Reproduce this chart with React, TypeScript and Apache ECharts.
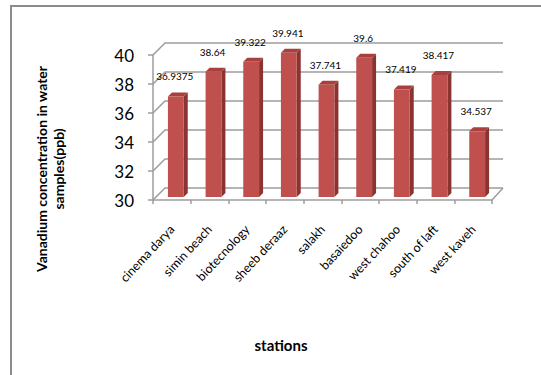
import React, { useEffect, useRef } from "react";
import * as echarts from "echarts";

// Stations along the coast and their vanadium concentrations (ppb)
const stations = [
  "cinema darya",
  "simin beach",
  "biotecnology",
  "sheeb deraaz",
  "salakh",
  "basaiedoo",
  "west chahoo",
  "south of laft",
  "west kaveh",
];
const vanadium = [36.9375, 38.64, 39.322, 39.941, 37.741, 39.6, 37.419, 38.417, 34.537];
const valueLabels = ["36.9375", "38.64", "39.322", "39.941", "37.741", "39.6", "37.419", "38.417", "34.537"];
const yTicks = [30, 32, 34, 36, 38, 40];

const Y_MIN = 30;
const Y_MAX = 40;
const DEPTH = 12; // back-wall offset (px) for the 3D look
const GRID_COLOR = "#9d9d9d";

export default function App() {
  const ref = useRef<HTMLDivElement>(null);

  useEffect(() => {
    if (!ref.current) return;
    const chart = echarts.init(ref.current, null, { renderer: "svg" });

    const option: any = {
      animation: false,
      backgroundColor: "#ffffff",
      grid: { left: 153, right: 49, top: 55, bottom: 175, containLabel: false },
      xAxis: {
        type: "category",
        data: stations,
        boundaryGap: true,
        axisLine: { show: true, lineStyle: { color: GRID_COLOR, width: 1.5 } },
        axisTick: { show: true, length: 4, lineStyle: { color: GRID_COLOR, width: 1.5 } },
        axisLabel: {
          rotate: 47,
          margin: 27,
          fontFamily: "Lato",
          fontSize: 12.5,
          color: "#000",
        },
        splitLine: { show: false },
      },
      yAxis: {
        type: "value",
        min: Y_MIN,
        max: Y_MAX,
        interval: 2,
        axisLine: { show: true, lineStyle: { color: GRID_COLOR, width: 1.5 } },
        axisTick: { show: true, length: 5, lineStyle: { color: GRID_COLOR, width: 1.5 } },
        axisLabel: {
          margin: 19,
          fontFamily: "Lato",
          fontSize: 17,
          color: "#000",
        },
        splitLine: { show: false },
      },
      series: [
        {
          // back wall and floor of the 3D frame
          type: "custom",
          z: 1,
          silent: true,
          data: yTicks.map((t) => [0, t]),
          renderItem: (params: any, api: any) => {
            const cs = params.coordSys;
            const v = api.value(1);
            const y = api.coord([0, v])[1];
            const x0 = cs.x;
            const x1 = cs.x + cs.width;
            const children: any[] = [
              {
                type: "polyline",
                shape: {
                  points: [
                    [x0, y],
                    [x0 + DEPTH, y - DEPTH],
                    [x1 + DEPTH - 1, y - DEPTH],
                  ],
                },
                style: { stroke: GRID_COLOR, lineWidth: 1.5, fill: null },
              },
            ];
            if (v === Y_MIN) {
              children.push({
                type: "line",
                shape: { x1: x1, y1: y, x2: x1 + DEPTH - 1, y2: y - DEPTH },
                style: { stroke: GRID_COLOR, lineWidth: 1.5 },
              });
            }
            return { type: "group", children };
          },
        },
        {
          // 3D columns with value labels
          type: "custom",
          z: 2,
          data: vanadium.map((v, i) => [i, v]),
          renderItem: (params: any, api: any) => {
            const idx = api.value(0);
            const val = api.value(1);
            const top = api.coord([idx, val]);
            const base = api.coord([idx, Y_MIN]);
            const band = api.size([1, 0])[0];
            const w = band * 0.42;
            const off = 4; // columns sit slightly behind the front plane
            const d = 4; // column depth
            const xl = top[0] + off - w / 2;
            const xr = xl + w;
            const yt = top[1] - 3;
            const yb = base[1] - 3;
            return {
              type: "group",
              children: [
                {
                  type: "polygon",
                  shape: { points: [[xr, yt], [xr + d, yt - d], [xr + d, yb - d], [xr, yb]] },
                  style: { fill: "#8a3432" },
                },
                {
                  type: "polygon",
                  shape: { points: [[xl, yt], [xl + d, yt - d], [xr + d, yt - d], [xr, yt]] },
                  style: { fill: "#a8413e" },
                },
                {
                  type: "rect",
                  shape: { x: xl, y: yt, width: w, height: yb - yt },
                  style: { fill: "#c0504d" },
                },
                {
                  type: "text",
                  style: {
                    text: valueLabels[idx],
                    x: top[0] + off - 1,
                    y: yt - 20,
                    align: "center",
                    verticalAlign: "middle",
                    fontFamily: "Lato",
                    fontSize: 10,
                    fill: "#000",
                  },
                },
              ],
            };
          },
        },
      ],
      graphic: [
        {
          type: "rect",
          shape: { x: 11, y: 6, width: 600, height: 500 },
          style: { fill: null, stroke: "#8c8c8c", lineWidth: 2 },
          silent: true,
        },
        {
          type: "text",
          x: 50,
          y: 169,
          rotation: Math.PI / 2,
          style: {
            text: "Vanadium concentration in water\nsamples(ppb)",
            align: "center",
            verticalAlign: "middle",
            fontFamily: "Lato",
            fontWeight: "bold",
            fontSize: 14,
            lineHeight: 17,
            fill: "#000",
          },
        },
        {
          type: "text",
          x: 281,
          y: 345,
          style: {
            text: "stations",
            align: "center",
            verticalAlign: "middle",
            fontFamily: "Lato",
            fontWeight: "bold",
            fontSize: 15,
            fill: "#000",
          },
        },
      ],
    };

    chart.setOption(option);
    return () => chart.dispose();
  }, []);

  return <div ref={ref} style={{ width: 541, height: 375, position: "absolute", left: 0, top: 0 }} />;
}
